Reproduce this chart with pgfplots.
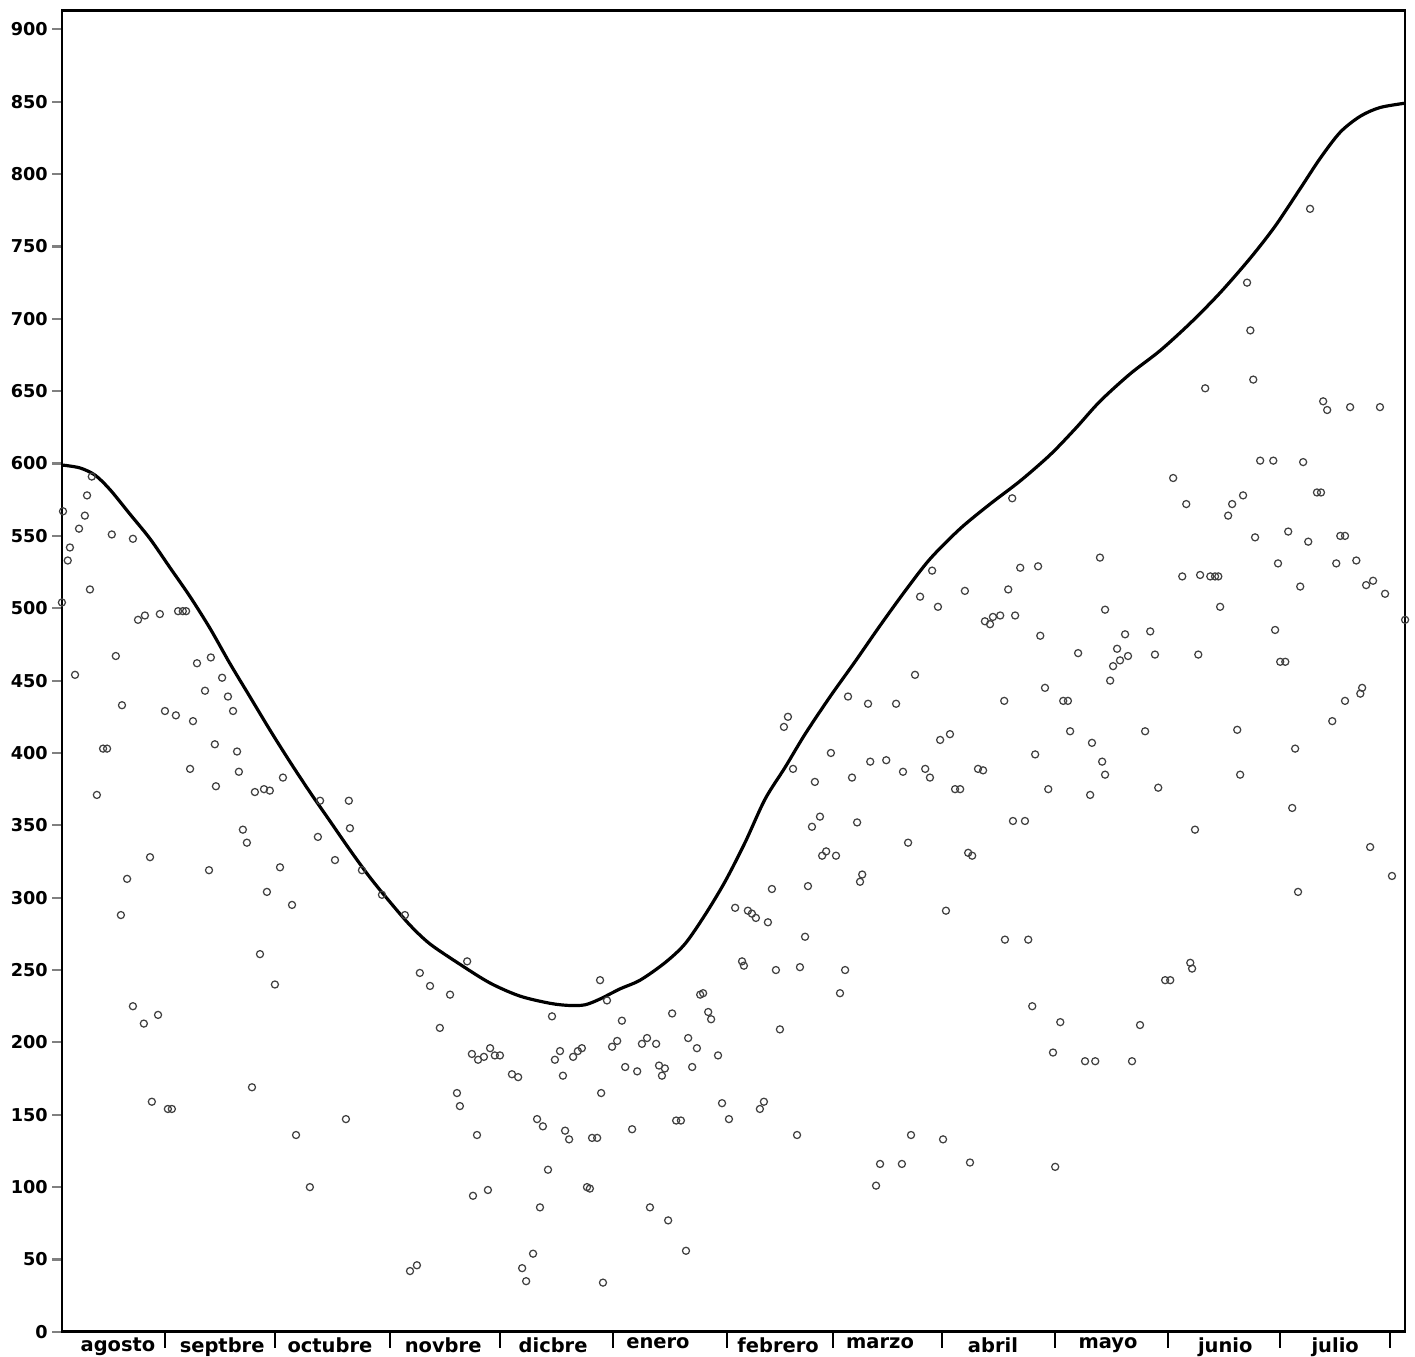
\documentclass[border=0pt]{standalone}
\usepackage{fontspec}
\setmainfont{DejaVu Sans}
\usepackage{pgfplots}
\usepackage{pgfplotstable}
\pgfplotsset{compat=1.18}

\pgfplotstableread{
d v
0.0 599
4.9 597
9.1 592
13.2 582
18.7 565
24.2 548
29.7 528
35.2 508
40.7 486
46.1 462
51.6 439
57.1 416
62.6 394
68.1 373
73.6 353
79.1 333
84.6 314
90.1 297
95.6 281
101.1 268
109.3 254
117.6 241
125.8 232
134.1 227
139.5 225.5
143.7 226
147.8 230
153.3 237
158.8 243
165.6 255
171.1 268
176.6 288
182.1 311
187.6 338
193.1 368
198.6 390
204.1 413
211.0 439
217.8 463
224.7 488
231.6 512
238.4 534
246.7 555
254.9 572
263.2 588
271.4 606
278.3 624
285.1 643
293.4 662
301.6 678
309.9 697
318.1 718
326.4 742
333.2 764
340.1 790
345.6 811
351.1 829
356.6 840
362.0 846
368.9 849
}\curve

\pgfplotstableread{
d v
0.0 504
0.3 567
1.6 533
2.2 542
3.6 454
4.7 555
6.3 564
6.9 578
7.7 513
8.2 591
9.6 371
11.3 403
12.4 403
13.7 551
14.8 467
16.5 433
16.2 288
17.9 313
19.5 548
20.9 492
22.8 495
24.2 328
24.7 159
26.9 496
28.3 429
29.1 154
30.2 154
31.3 426
19.5 225
22.5 213
26.4 219
31.9 498
33.2 498
34.1 498
35.2 389
36.0 422
37.1 462
39.3 443
40.4 319
40.9 466
42.0 406
42.3 377
44.0 452
45.6 439
47.0 429
48.1 401
48.6 387
49.7 347
50.8 338
52.2 169
53.0 373
54.4 261
55.5 375
56.3 304
57.1 374
58.5 240
59.9 321
60.7 383
63.2 295
64.3 136
68.1 100
70.3 342
70.9 367
75.0 326
78.0 147
78.8 367
79.1 348
82.4 319
87.9 302
94.2 288
95.6 42
97.5 46
98.3 248
101.1 239
103.8 210
106.6 233
108.5 165
109.3 156
111.3 256
112.6 192
114.0 136
114.3 188
115.9 190
112.9 94
117.6 196
117.0 98
118.9 191
120.3 191
123.6 178
125.3 176
126.4 44
127.5 35
129.4 54
130.5 147
131.3 86
132.1 142
133.5 112
134.6 218
135.4 188
136.8 194
137.6 177
138.2 139
139.3 133
140.4 190
141.7 194
142.8 196
144.2 100
145.0 99
145.6 134
147.0 134
147.8 243
148.1 165
148.6 34
149.7 229
151.1 197
152.5 201
153.8 215
154.7 183
156.6 140
158.0 180
159.3 199
160.7 203
161.5 86
163.2 199
164.0 184
164.8 177
165.6 182
166.5 77
167.6 220
168.7 146
170.0 146
171.4 56
172.0 203
173.1 183
174.4 196
175.3 233
176.1 234
177.5 221
178.3 216
180.2 191
181.3 158
183.2 147
184.9 293
186.8 256
187.3 253
188.4 291
189.5 289
190.6 286
191.7 154
192.8 159
193.9 283
195.0 306
196.1 250
197.2 209
198.3 418
199.4 425
200.8 389
201.9 136
202.7 252
204.1 273
204.9 308
206.0 349
206.8 380
208.2 356
208.8 329
209.9 332
211.2 400
212.6 329
213.7 234
215.1 250
215.9 439
217.0 383
218.4 352
219.2 311
219.8 316
221.4 434
222.0 394
223.6 101
224.7 116
226.4 395
229.1 434
230.7 116
231.0 387
232.4 338
233.2 136
234.3 454
235.7 508
237.1 389
238.4 383
239.0 526
240.6 501
241.2 409
242.0 133
242.8 291
243.9 413
245.3 375
246.7 375
248.0 512
248.9 331
249.4 117
250.0 329
251.6 389
253.0 388
253.5 491
254.9 489
255.7 494
257.7 495
258.8 436
259.0 271
259.9 513
261.0 576
261.2 353
264.5 353
261.8 495
263.2 528
265.4 271
266.5 225
267.3 399
268.1 529
268.7 481
270.0 445
270.9 375
272.2 193
272.8 114
274.2 214
275.0 436
276.3 436
276.9 415
279.1 469
281.0 187
282.4 371
282.9 407
283.8 187
285.1 535
285.7 394
286.5 385
286.5 499
287.9 450
288.7 460
289.8 472
290.6 464
292.0 482
292.8 467
293.9 187
296.1 212
297.5 415
298.9 484
300.2 468
301.1 376
303.0 243
304.4 243
305.2 590
307.7 522
308.8 572
309.9 255
310.4 251
311.2 347
312.1 468
312.6 523
314.0 652
315.4 522
316.7 522
317.6 522
318.1 501
320.3 564
321.4 572
322.8 416
323.6 385
324.4 578
325.5 725
326.4 692
327.2 658
327.7 549
329.1 602
332.7 602
333.2 485
334.0 531
334.6 463
336.0 463
336.8 553
337.9 362
338.7 403
339.5 304
340.1 515
340.9 601
342.3 546
342.8 776
344.7 580
345.8 580
346.4 643
347.5 637
348.9 422
350.0 531
351.1 550
352.4 550
352.4 436
353.8 639
355.5 533
356.6 441
357.1 445
358.2 516
359.3 335
360.1 519
362.0 639
363.4 510
365.3 315
368.9 492
}\pts

\begin{document}
\begin{tikzpicture}
\begin{axis}[
  scale only axis,
  width=379.6pt, height=373.4pt,
  xmin=0, xmax=368.9, ymin=0, ymax=913,
  axis line style={line width=0.75pt},
  tick align=outside,
  xtick pos=bottom, ytick pos=left,
  major tick length=2.8pt,
  minor tick length=4.5pt,
  ytick={0,50,...,900},
  ytick style={line width=0.6pt},
  xtick={15.4,44,73.6,104.7,134.9,163.7,196.7,224.7,255.7,287.3,319.5,349.7},
  xticklabels={agosto,septbre,octubre,novbre,dicbre,enero,febrero,marzo,abril,mayo,junio,julio},
  major x tick style={draw=none},
  minor xtick={28.3,58.5,90.1,120.3,151.4,182.7,211.8,241.7,272.8,303.8,334.6,364.8},
  minor x tick style={line width=0.7pt, black},
  /pgf/number format/assume math mode=true,
  yticklabel style={font=\fontsize{5}{6}\selectfont\bfseries, inner sep=1pt},
  xticklabel style={font=\fontsize{5.5}{6}\selectfont\bfseries, inner sep=0pt, yshift=1.4pt},
  clip=false,
]
\addplot[only marks, mark=o, mark size=1pt, mark options={line width=0.35pt, draw=black!75}] table[x=d, y=v] {\pts};
\addplot[black, line width=0.9pt, smooth, tension=0.5] table[x=d, y=v] {\curve};
\end{axis}
\path ([shift={(-17.5pt,-6pt)}]current axis.south west) rectangle ([shift={(2.8pt,3pt)}]current axis.north east);
\end{tikzpicture}
\end{document}
